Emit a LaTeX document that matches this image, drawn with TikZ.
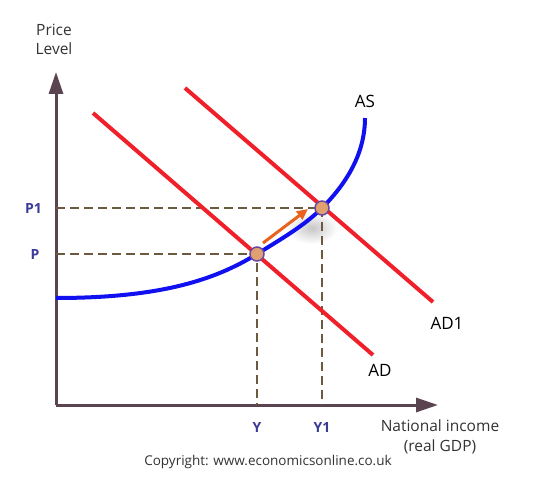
\documentclass[tikz,border=0pt]{standalone}
\usepackage{fontspec}
\setmainfont{Open Sans}
\usetikzlibrary{arrows.meta}
\definecolor{axiscol}{HTML}{5A4450}
\definecolor{dashcol}{HTML}{6B5A40}
\definecolor{lblblue}{HTML}{3B3B98}
\definecolor{adred}{HTML}{F0202A}
\definecolor{asblue}{HTML}{1010F0}
\definecolor{ptfill}{HTML}{E0A070}
\definecolor{ptdraw}{HTML}{6A4AA0}
\definecolor{arrorange}{HTML}{E8641E}
\definecolor{txtgray}{HTML}{333333}
\tikzset{
  axisline/.style={draw=axiscol,line width=3pt,-{Triangle[length=22pt,width=14pt]}},
  guide/.style={draw=dashcol,line width=1.3pt,dash pattern=on 9pt off 5pt},
  adline/.style={draw=adred,line width=4pt},
  asline/.style={draw=asblue,line width=4pt},
  pt/.style={circle,fill=ptfill,draw=ptdraw,line width=1.5pt,minimum size=14pt,inner sep=0pt},
  axlbl/.style={font=\fontsize{14}{14}\selectfont\bfseries,text=lblblue},
  curvelbl/.style={font=\fontsize{17}{17}\selectfont,text=black},
  plain/.style={font=\fontsize{15.5}{19}\selectfont,text=txtgray,align=center}
}
\begin{document}
\begin{tikzpicture}[x=1pt,y=-1pt]
\useasboundingbox (0,0) rectangle (549,500);
\fill[white] (0,0) rectangle (549,500);
% shadow
\shade[inner color=black!22,outer color=white] (312,228) ellipse (26pt and 16pt);
% axes
\coordinate (O) at (56,405);
\coordinate (ytip) at (56,72);
\coordinate (xtip) at (438,405);
\draw[axisline] (O) -- (ytip);
\draw[axisline] (O) -- (xtip);
% points
\coordinate (E0) at (257,254);
\coordinate (E1) at (322,208);
\coordinate (yP) at (56,254);
\coordinate (yP1) at (56,208);
\coordinate (xY) at (257,405);
\coordinate (xY1) at (322,405);
% guides
\draw[guide] (yP1) -- (E1) -- (xY1);
\draw[guide] (yP) -- (E0) -- (xY);
% AD lines
\coordinate (ad0) at (93,113);
\coordinate (ad1) at (373,355);
\coordinate (adb0) at (185,88);
\coordinate (adb1) at (433,302);
\draw[adline] (ad0) -- (ad1);
\draw[adline] (adb0) -- (adb1);
% AS curve
\coordinate (as0) at (56,298);
\coordinate (as1) at (365,118);
\draw[asline] (as0) .. controls (160,298) and (215,280) .. (E0)
  .. controls (283,238) and (305,225) .. (E1)
  .. controls (350,180) and (365,150) .. (as1);
% orange arrow
\coordinate (oa0) at (263,243);
\coordinate (oa1) at (308,209);
\draw[draw=arrorange,line width=3pt,-{Triangle[length=11pt,width=10pt]}] (oa0) -- (oa1);
% circles
\node[pt] (c0) at (E0) {};
\node[pt] (c1) at (E1) {};
% labels
\node[plain] (ylab) at (54,39) {Price\\Level};
\node[axlbl] (lP1) at (33.5,209) {P1};
\node[axlbl] (lP) at (35,255) {P};
\node[axlbl] (lY) at (257,428) {Y};
\node[axlbl] (lY1) at (322,428) {Y1};
\node[curvelbl] (lAS) at (365,101) {AS};
\node[curvelbl] (lAD) at (380,370) {AD};
\node[curvelbl] (lAD1) at (447,323) {AD1};
\node[plain,font=\fontsize{15.5}{20}\selectfont] (xlab) at (440,437) {National income\\(real GDP)};
\node[font=\fontsize{13.5}{13.5}\selectfont,text=txtgray] (copy) at (268,462) {Copyright: www.economicsonline.co.uk};
\end{tikzpicture}
\end{document}
